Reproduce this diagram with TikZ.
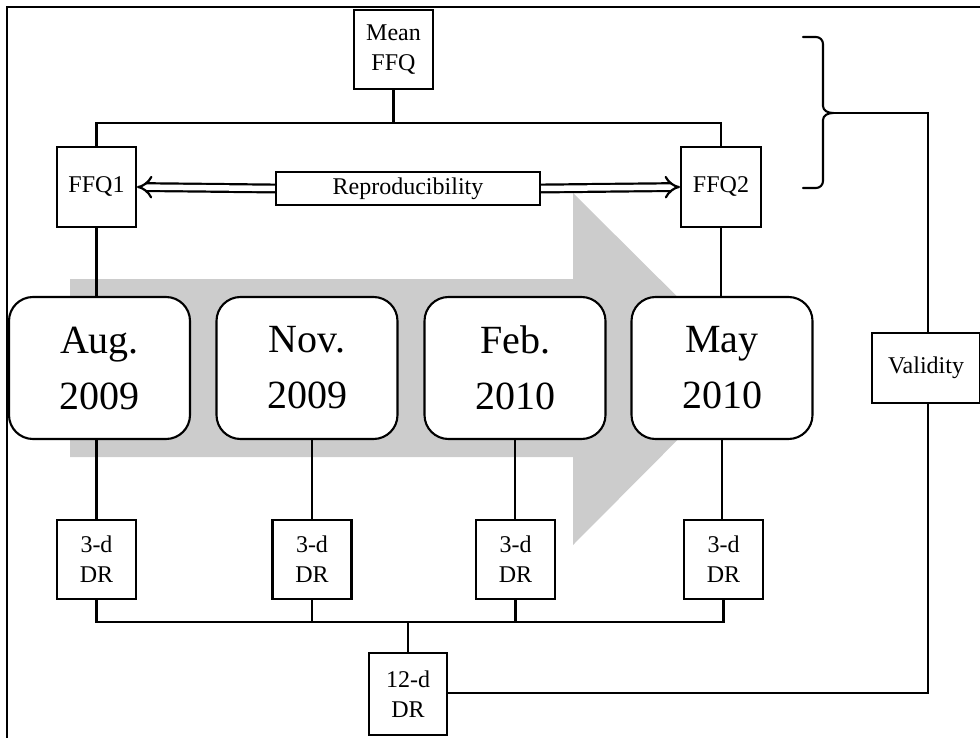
\documentclass[tikz,border=0pt]{standalone}
\usepackage{fontspec}
\setmainfont{Liberation Serif}
\usetikzlibrary{arrows.meta}
\tikzset{
  ln/.style={line width=2.1pt, draw=black},
  smallbox/.style={ln, fill=white, rectangle, inner sep=0pt, align=center,
    font=\fontsize{24}{30}\selectfont},
  datebox/.style={ln, fill=white, rectangle, rounded corners=24pt, inner sep=0pt,
    minimum width=181pt, minimum height=142pt, align=center,
    font=\fontsize{40}{56}\selectfont},
  drbox/.style={smallbox, minimum width=79pt, minimum height=79pt},
  dbl/.style={line width=2.2pt, double=white, double distance=5.5pt, -{Implies[length=11pt,width=17pt]}},
  bigarrow/.style={fill=gray!40, draw=none}
}
\begin{document}
\begin{tikzpicture}[x=1pt,y=-1pt]
\useasboundingbox (0,0) rectangle (980,738);
% outer frame (top and left edges)
\draw[ln] (7,738) -- (7,7) -- (980,7);
% gray arrow
\fill[bigarrow] (70,279) -- (573,279) -- (573,193) -- (749,368) -- (573,545) -- (573,457) -- (70,457) -- cycle;
% top boxes
\node[smallbox, minimum width=79pt, minimum height=79pt] (mean) at (393.5,49.5) {Mean\\FFQ};
\node[smallbox, minimum width=79pt, minimum height=80pt] (ffq1) at (96.5,187) {FFQ1};
\node[smallbox, minimum width=80pt, minimum height=80pt] (ffq2) at (721,187) {FFQ2};
\node[smallbox, minimum width=264pt, minimum height=33pt] (repro) at (408,188.5) {Reproducibility};
% date boxes
\node[datebox] (aug) at (99.5,368) {Aug.\\2009};
\node[datebox] (nov) at (307,368) {Nov.\\2009};
\node[datebox] (feb) at (515,368) {Feb.\\2010};
\node[datebox] (may) at (722,368) {May\\2010};
% diet records
\node[drbox] (dr1) at (96.5,559.5) {3-d\\DR};
\node[drbox] (dr2) at (312,559.5) {3-d\\DR};
\node[drbox] (dr3) at (515.5,559.5) {3-d\\DR};
\node[drbox] (dr4) at (723.5,559.5) {3-d\\DR};
\node[smallbox, minimum width=78pt, minimum height=82pt] (dr12) at (408,694) {12-d\\DR};
\node[smallbox, minimum width=108pt, minimum height=70pt] (valid) at (926,368) {Validity};
% coordinates
\coordinate (top) at (393.5,123);
\coordinate (bus) at (408,622);
\coordinate (tip) at (833,113);
\coordinate (vtop) at (928,113);
\coordinate (vbot) at (928,693);
% connectors top
\draw[ln] (mean.south) -- (top);
\draw[ln] (ffq1.north) |- (top) -| (ffq2.north);
\draw[dbl] (repro.west) -- (ffq1.east);
\draw[dbl] (repro.east) -- (ffq2.east -| ffq2.west);
\draw[ln] (ffq1.south) -- (ffq1.south |- aug.north);
\draw[ln] (ffq2.south) -- (ffq2.south |- may.north);
% date to DR
\draw[ln] (aug.south -| dr1.south) -- (dr1.north);
\draw[ln] (nov.south -| dr2.south) -- (dr2.north);
\draw[ln] (feb.south) -- (feb.south |- dr3.north);
\draw[ln] (may.south) -- (may.south |- dr4.north);
% bus
\draw[ln] (dr1.south) |- (bus) -| (dr4.south);
\draw[ln] (dr2.south) -- (dr2.south |- bus);
\draw[ln] (dr3.south) -- (dr3.south |- bus);
\draw[ln] (bus) -- (dr12.north);
% bracket
\draw[ln, line cap=round] (803,37) -- (816,37) to[out=0,in=90] (823,44) -- (823,106)
  to[out=-90,in=180] (tip) to[out=180,in=90] (823,120) -- (823,181)
  to[out=-90,in=0] (816,188) -- (803,188);
% validity
\draw[ln] (tip) -- (vtop) -- (valid.north -| vtop);
\draw[ln] (valid.south -| vbot) -- (vbot) -- (vbot -| dr12.east);
\end{tikzpicture}
\end{document}
